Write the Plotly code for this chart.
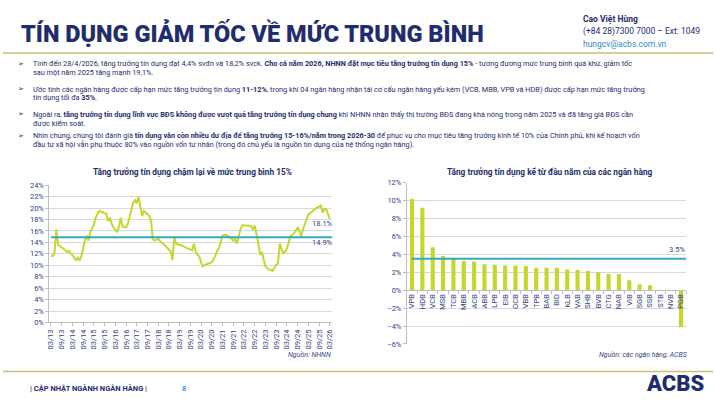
import plotly.graph_objects as go
import pandas as pd

# ---------------- DATA ----------------
credit_growth = [
    11.7, 11.6, 12.1, 16.3, 13.6, 13.4, 13.2, 12.9, 12.6, 12.3,
    12.5, 12.0, 11.8, 11.3, 10.9, 11.3, 10.8, 11.6, 13.2, 14.3,
    15.2, 14.3, 15.8, 16.5, 17.0, 18.3, 19.0, 19.5, 19.4, 19.2,
    19.1, 19.0, 17.7, 18.3, 17.2, 16.6, 16.3, 15.8, 16.6, 18.3,
    16.8, 16.7, 16.6, 17.2, 18.6, 19.5, 21.0, 21.4, 20.8, 22.0,
    20.0, 18.6, 19.5, 19.2, 19.0, 18.6, 17.7, 14.6, 14.3, 14.4,
    14.6, 14.2, 14.0, 13.7, 13.4, 13.0, 12.8, 12.4, 10.9, 14.9,
    13.8, 13.6, 13.5, 13.5, 13.3, 13.2, 13.0, 12.9, 12.8, 12.6,
    13.8, 12.3, 11.9, 11.5, 10.5, 9.8, 10.0, 10.2, 10.3, 10.4,
    10.6, 11.0, 11.8, 12.5, 13.0, 14.0, 15.2, 15.3, 15.3, 15.1,
    15.0, 14.7, 14.3, 14.6, 13.8, 15.0, 16.3, 17.0, 17.0, 17.0,
    17.0, 16.9, 16.8, 16.3, 16.9, 15.6, 13.8, 11.8, 12.3, 11.0,
    9.8, 9.5, 9.2, 9.2, 9.0, 9.5, 10.1, 10.3, 13.8, 12.8,
    12.1, 12.4, 12.9, 14.0, 15.1, 15.3, 15.6, 16.1, 16.6, 16.0,
    15.1, 16.3, 17.2, 18.0, 18.9, 19.1, 19.4, 19.7, 19.9, 20.1,
    20.3, 20.4, 19.2, 19.9, 19.8, 19.0, 18.1,
]
start_month = "2013-03-01"
avg_level = 14.9
last_label = "18.1%"
avg_label = "14.9%"

left_ticks = ["2013-03-01", "2013-09-01", "2014-03-01", "2014-09-01", "2015-03-01", "2015-09-01",
              "2016-03-01", "2016-09-01", "2017-03-01", "2017-09-01", "2018-03-01", "2018-09-01",
              "2019-03-01", "2019-09-01", "2020-03-01", "2020-09-01", "2021-03-01", "2021-09-01",
              "2022-03-01", "2022-09-01", "2023-03-01", "2023-09-01", "2024-03-01", "2024-09-01",
              "2025-03-01", "2025-09-01", "2026-03-01"]
left_ticktext = ["03/13", "09/13", "03/14", "09/14", "03/15", "09/15", "03/16", "09/16", "03/17",
                 "09/17", "03/18", "09/18", "03/19", "09/19", "03/20", "09/20", "03/21", "09/21",
                 "03/22", "09/22", "03/23", "09/23", "03/24", "09/24", "03/25", "09/25", "03/26"]

banks = ["VPB", "HDB", "VCB", "MSB", "TCB", "MBB", "ACB", "ABB", "LPB", "EIB", "OCB", "VBB",
         "TPB", "BAB", "BID", "KLB", "VAB", "SHB", "BVB", "CTG", "NAB", "VIB", "SGB", "SSB",
         "STB", "NVB", "PGB"]
bank_growth = [10.2, 9.2, 4.8, 3.8, 3.6, 3.25, 3.2, 2.9, 2.85, 2.75, 2.75, 2.7,
               2.5, 2.5, 2.5, 2.3, 2.25, 2.15, 2.0, 1.8, 1.8, 1.1, 0.65, 0.55,
               0.0, 0.0, -4.15]
bank_avg = 3.5

# ---------------- STYLE ----------------
W, H = 715, 404
NAVY = "#1f2d6e"
TICK = "#34437f"
GRID = "#d9d9d9"
AXIS = "#bfbfbf"
LIME = "#c6d62c"
TEAL = "#35a9bf"
GOLD = "#cbbf74"
FONT = "Roboto"


def px(x):
    return x / W


def py(y):
    return 1 - y / H


dates = pd.date_range(start_month, periods=len(credit_growth), freq="MS")

fig = go.Figure()

fig.add_trace(go.Scatter(x=dates, y=credit_growth, mode="lines",
                         line=dict(color=LIME, width=2), xaxis="x", yaxis="y",
                         hoverinfo="skip", showlegend=False))
fig.add_trace(go.Bar(x=banks, y=bank_growth, marker=dict(color=LIME, line=dict(width=0)),
                     xaxis="x2", yaxis="y2", showlegend=False, hoverinfo="skip"))

L_X0, L_X1, L_Y0, L_Y1 = 46.7, 331.7, 185.3, 325.7
R_X0, R_X1, R_Y0, R_Y1 = 406.7, 688.0, 182.7, 347.7
zero_y_right = 292.7

tickfont = dict(family=FONT, size=7.5, color=TICK)

fig.update_layout(
    width=W, height=H, margin=dict(l=0, r=0, t=0, b=0),
    paper_bgcolor="white", plot_bgcolor="white",
    bargap=0.6,
    xaxis=dict(domain=[px(L_X0), px(L_X1)], anchor="y", type="date",
               range=["2013-02-03", "2026-04-15"],
               tickmode="array", tickvals=left_ticks, ticktext=left_ticktext,
               tickangle=-90, tickfont=tickfont, showgrid=False,
               showline=True, linecolor=AXIS, linewidth=1,
               ticks="outside", ticklen=3, tickcolor=AXIS),
    yaxis=dict(domain=[py(L_Y1), py(L_Y0)], anchor="x", range=[0, 24], dtick=2,
               ticksuffix="%", tickfont=tickfont, showgrid=True, gridcolor=GRID,
               gridwidth=1, zeroline=False, showline=True, linecolor=AXIS,
               ticks="outside", ticklen=3, tickcolor=AXIS),
    xaxis2=dict(domain=[px(R_X0), px(R_X1)], anchor="free", position=py(zero_y_right),
                type="category", range=[-0.5, len(banks) - 0.5],
                tickangle=-90, tickfont=tickfont, showgrid=False,
                showline=True, linecolor=AXIS, linewidth=1,
                ticks="outside", ticklen=3, tickcolor=AXIS, tickson="boundaries"),
    yaxis2=dict(domain=[py(R_Y1), py(R_Y0)], anchor="x2", range=[-6, 12], dtick=2,
                ticksuffix="%", tickfont=tickfont, showgrid=True, gridcolor=GRID,
                gridwidth=1, zeroline=False, showline=True, linecolor=AXIS,
                ticks="outside", ticklen=3, tickcolor=AXIS),
)

shapes = [
    dict(type="line", xref="paper", yref="paper", x0=0, x1=1, y0=py(50), y1=py(50),
         line=dict(color=GOLD, width=1.5)),
    dict(type="line", xref="paper", yref="paper", x0=0, x1=1, y0=py(376), y1=py(376),
         line=dict(color=GOLD, width=1.5)),
    dict(type="line", xref="x", yref="y", x0=dates[0], x1="2026-04-15",
         y0=avg_level, y1=avg_level, line=dict(color=TEAL, width=2)),
    dict(type="line", xref="x2", yref="y2", x0=0, x1=len(banks) - 0.5,
         y0=bank_avg, y1=bank_avg, line=dict(color=TEAL, width=2)),
]
fig.update_layout(shapes=shapes)

ann = []


def text(x, y, s, size=7.3, color=NAVY, xanchor="left", yanchor="middle", family=FONT,
         weight=None, **kw):
    f = dict(family=family, size=size, color=color)
    if weight is not None:
        f["weight"] = weight
    ann.append(dict(x=px(x), y=py(y), xref="paper", yref="paper", text=s, showarrow=False,
                    xanchor=xanchor, yanchor=yanchor, font=f, **kw))


# Header
text(16, 30, "TÍN DỤNG GIẢM TỐC VỀ MỨC TRUNG BÌNH", size=23.5, color=NAVY, weight=900)
text(582, 15, "<b>Cao Việt Hùng</b>", size=8.5, color=NAVY)
text(582, 28, "(+84 28)7300 7000 – Ext: 1049", size=8.5, color=NAVY)
text(582, 41, "hungcv@acbs.com.vn", size=8.5, color="#2f8dc4")

# Bullets
bullets = [
    (61, ["Tính đến 28/4/2026, tăng trưởng tín dụng đạt 4,4% svđn và 18,2% svck. <b>Cho cả năm 2026, NHNN đặt mục tiêu tăng trưởng tín dụng 15%</b> - tương đương mức trung bình quá khứ, giảm tốc",
          "sau một năm 2025 tăng mạnh 19,1%."]),
    (87, ["Ước tính các ngân hàng được cấp hạn mức tăng trưởng tín dụng <b>11-12%</b>, trong khi 04 ngân hàng nhận tái cơ cấu ngân hàng yếu kém (VCB, MBB, VPB và HDB) được cấp hạn mức tăng trưởng",
          "tín dụng tối đa <b>35%</b>."]),
    (113, ["Ngoài ra, <b>tăng trưởng tín dụng lĩnh vực BĐS không được vượt quá tăng trưởng tín dụng chung</b> khi NHNN nhận thấy thị trường BĐS đang khá nóng trong năm 2025 và đã tăng giá BĐS cần",
           "được kiểm soát."]),
    (135, ["Nhìn chung, chúng tôi đánh giá <b>tín dụng vẫn còn nhiều dư địa để tăng trưởng 15-16%/năm trong 2026-30</b> để phục vụ cho mục tiêu tăng trưởng kinh tế 10% của Chính phủ, khi kế hoạch vốn",
           "đầu tư xã hội vẫn phụ thuộc 80% vào nguồn vốn tư nhân (trong đó chủ yếu là nguồn tín dụng của hệ thống ngân hàng)."]),
]
for y0, lines in bullets:
    text(13, y0, "➢", size=7, color=NAVY, family="DejaVu Sans")
    for i, ln in enumerate(lines):
        text(28, y0 + i * 9, ln, size=7.3, color=NAVY)

# Chart titles
text(191, 172, "<b>Tăng trưởng tín dụng chậm lại về mức trung bình 15%</b>", size=8.3, xanchor="center")
text(551, 172, "<b>Tăng trưởng tín dụng kể từ đầu năm của các ngân hàng</b>", size=8.3, xanchor="center")

# Value labels
text(334, 225, last_label, size=7.5, color=TICK, xanchor="right")
text(334, 244, avg_label, size=7.5, color=TICK, xanchor="right")
text(689, 251, f"{bank_avg:.1f}%", size=7.5, color=TICK, xanchor="right")

# Sources
text(332, 359, "<i>Nguồn: NHNN</i>", size=7, color=TICK, xanchor="right")
text(692, 359, "<i>Nguồn: các ngân hàng, ACBS</i>", size=7, color=TICK, xanchor="right")

# Footer
text(25, 393, "<b>| CẬP NHẬT NGÀNH NGÂN HÀNG |</b>", size=7.5, color=NAVY)
text(178, 393, "<b>8</b>", size=7.5, color="#2f9fd0")
text(708, 388, "ACBS", size=22, color=NAVY, xanchor="right", weight=900)

fig.update_layout(annotations=ann)

fig.write_html("out.html", include_plotlyjs=True)
